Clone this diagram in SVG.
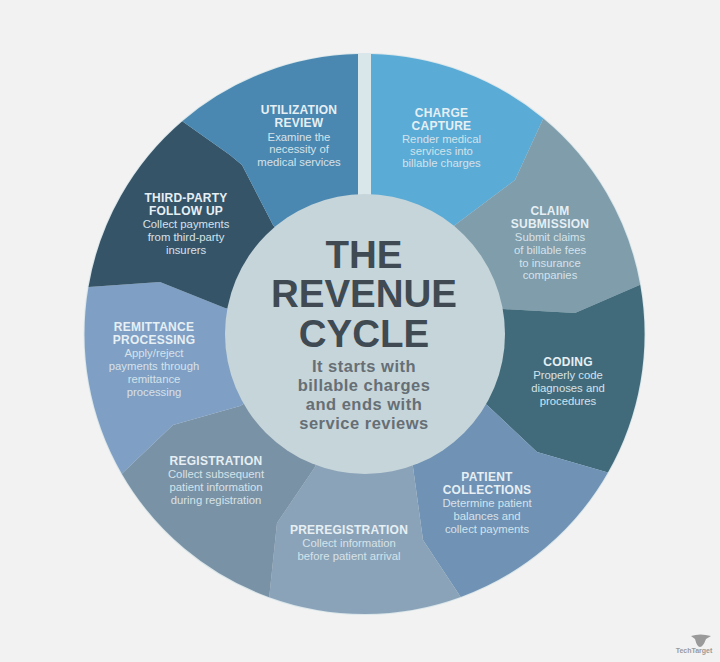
<svg xmlns="http://www.w3.org/2000/svg" width="720" height="662" viewBox="0 0 720 662">
<style>
text{font-family:"Liberation Sans",Arial,sans-serif;text-anchor:middle}
.h{font-size:12px;font-weight:700;fill:#e6eff4;letter-spacing:.25px}
.b{font-size:11.3px;fill:#d5e2ea}
.t{font-size:38.5px;font-weight:700;fill:#3f4a52}
.s{font-size:16.5px;font-weight:700;fill:#666f75;letter-spacing:.5px}
</style>
<rect width="720" height="662" fill="#f2f2f2"/>
<circle id="rim" cx="364.5" cy="334" r="281" fill="#d9e6ea"/>
<g id="charge-capture">
<path d="M371 54.1A280 280 0 0 1 543.3 118.5L515 180L455 225L365 334L371 195Z" fill="#5aabd6"/>
<text class="h" x="441.5" y="117">CHARGE</text><text class="h" x="441.5" y="130">CAPTURE</text>
<text class="b" x="441.5" y="143">Render medical</text><text class="b" x="441.5" y="155">services into</text><text class="b" x="441.5" y="167">billable charges</text>
</g>
<g id="claim-submission">
<path d="M543.3 118.5A280 280 0 0 1 640.2 284.8L575 313L503 309L365 334L455 225L515 180Z" fill="#7f9dab"/>
<text class="h" x="550" y="215">CLAIM</text><text class="h" x="550" y="228">SUBMISSION</text>
<text class="b" x="550" y="241">Submit claims</text><text class="b" x="550" y="254">of billable fees</text><text class="b" x="550" y="267">to insurance</text><text class="b" x="550" y="279">companies</text>
</g>
<g id="coding">
<path d="M640.2 284.8A280 280 0 0 1 607.9 472.5L537 452L487 405L365 334L503 309L575 313Z" fill="#416b7a"/>
<text class="h" x="568" y="366">CODING</text>
<text class="b" x="568" y="379">Properly code</text><text class="b" x="568" y="392">diagnoses and</text><text class="b" x="568" y="405">procedures</text>
</g>
<g id="patient-collections">
<path d="M607.9 472.5A280 280 0 0 1 460.7 596.9L423 540L413 467L365 334L487 405L537 452Z" fill="#6f92b5"/>
<text class="h" x="487" y="481">PATIENT</text><text class="h" x="487" y="494">COLLECTIONS</text>
<text class="b" x="487" y="507">Determine patient</text><text class="b" x="487" y="520">balances and</text><text class="b" x="487" y="533">collect payments</text>
</g>
<g id="preregistration">
<path d="M460.7 596.9A280 280 0 0 1 269.2 597.2L277 523L315 467L365 334L413 467L423 540Z" fill="#8ba3b8"/>
<text class="h" x="349" y="534">PREREGISTRATION</text>
<text class="b" x="349" y="547">Collect information</text><text class="b" x="349" y="560">before patient arrival</text>
</g>
<g id="registration">
<path d="M269.2 597.2A280 280 0 0 1 121.8 473.7L173 425L240 406L365 334L315 467L277 523Z" fill="#7a92a5"/>
<text class="h" x="216" y="465">REGISTRATION</text>
<text class="b" x="216" y="478">Collect subsequent</text><text class="b" x="216" y="491">patient information</text><text class="b" x="216" y="504">during registration</text>
</g>
<g id="remittance-processing">
<path d="M121.8 473.7A280 280 0 0 1 88.5 287.1L160 282L225 308L365 334L240 406L173 425Z" fill="#7f9fc4"/>
<text class="h" x="154" y="331">REMITTANCE</text><text class="h" x="154" y="344">PROCESSING</text>
<text class="b" x="154" y="357">Apply/reject</text><text class="b" x="154" y="370">payments through</text><text class="b" x="154" y="383">remittance</text><text class="b" x="154" y="396">processing</text>
</g>
<g id="third-party-follow-up">
<path d="M88.5 287.1A280 280 0 0 1 182.3 121.2L230 155L242 165L273 225L365 334L225 308L160 282Z" fill="#365468"/>
<text class="h" x="186" y="202">THIRD-PARTY</text><text class="h" x="186" y="215">FOLLOW UP</text>
<text class="b" x="186" y="228">Collect payments</text><text class="b" x="186" y="241">from third-party</text><text class="b" x="186" y="254">insurers</text>
</g>
<g id="utilization-review">
<path d="M182.3 121.2A280 280 0 0 1 358 54.1V195L365 334L273 225L242 165L230 155Z" fill="#4a88b1"/>
<text class="h" x="299" y="114">UTILIZATION</text><text class="h" x="299" y="127">REVIEW</text>
<text class="b" x="299" y="141">Examine the</text><text class="b" x="299" y="153">necessity of</text><text class="b" x="299" y="166">medical services</text>
</g>
<g id="center">
<circle cx="365" cy="334" r="140" fill="#c6d5da"/>
<text class="t" x="364" y="268">THE</text><text class="t" x="364" y="307">REVENUE</text><text class="t" x="364" y="347">CYCLE</text>
<text class="s" x="364" y="372">It starts with</text><text class="s" x="364" y="391">billable charges</text><text class="s" x="364" y="410">and ends with</text><text class="s" x="364" y="429">service reviews</text>
</g>
<g id="logo">
<path d="M691 636Q700 633 711 636L706 639Q703 647 700 647Q697 647 695 639Z" fill="#9a9a9a"/>
<text x="694" y="653" font-size="7" font-weight="700" fill="#9a9a9a">TechTarget</text>
</g>
</svg>
